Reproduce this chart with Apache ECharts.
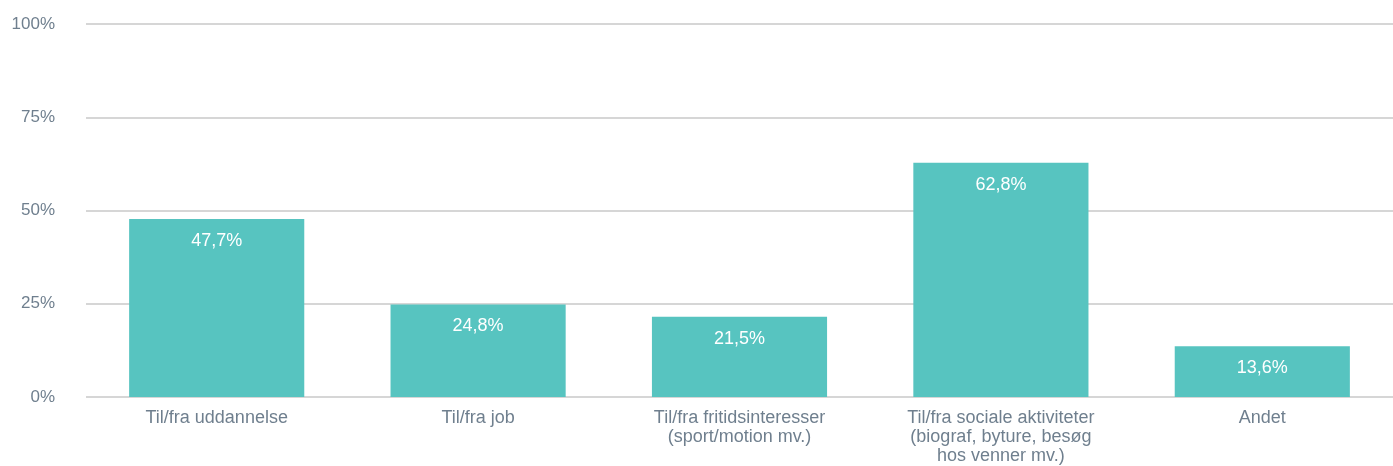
<!DOCTYPE html>
<html lang="da">
<head>
    <meta charset="UTF-8">
    <title>Transportformål</title>
    <script src="https://cdn.jsdelivr.net/npm/echarts@6/dist/echarts.min.js"></script>
    <style>
        html, body { margin: 0; padding: 0; background: #fff; }
        #chart { width: 1393px; height: 466px; }
    </style>
</head>
<body>
    <div id="chart"></div>
    <script type="text/javascript">
    // categories and values
    var categories = [
        'Til/fra uddannelse',
        'Til/fra job',
        'Til/fra fritidsinteresser\n(sport/motion mv.)',
        'Til/fra sociale aktiviteter\n(biograf, byture, besøg\nhos venner mv.)',
        'Andet'
    ];
    var values = [47.7, 24.8, 21.5, 62.8, 13.6];
    var yTicks = [0, 25, 50, 75, 100];

    var chart = echarts.init(document.getElementById('chart'));
    var textFont = 'Liberation Sans, Arial, sans-serif';

    var option = {
        animation: false,
        grid: { left: 86, right: 0, top: 24, bottom: 69 },
        xAxis: {
            type: 'category',
            data: categories,
            axisLine: { show: false },
            axisTick: { show: false },
            axisLabel: {
                color: '#6f7f8e',
                fontSize: 18,
                fontFamily: textFont,
                lineHeight: 19,
                margin: 12
            }
        },
        yAxis: {
            type: 'value',
            min: 0,
            max: 100,
            interval: 25,
            axisLine: { show: false },
            axisTick: { show: false },
            axisLabel: {
                color: '#6f7f8e',
                fontSize: 17,
                fontFamily: textFont,
                margin: 31,
                formatter: function (v) {
                    return yTicks.indexOf(v) >= 0 ? v + '%' : '';
                }
            },
            splitLine: { lineStyle: { color: '#d6d6d6', width: 2 } }
        },
        series: [
            {
                type: 'bar',
                data: values,
                barWidth: '67%',
                itemStyle: { color: '#57c4c0' },
                label: {
                    show: true,
                    position: 'insideTop',
                    distance: 13,
                    color: '#ffffff',
                    fontSize: 18,
                    fontFamily: textFont,
                    formatter: function (p) {
                        return p.value.toFixed(1).replace('.', ',') + '%';
                    }
                }
            }
        ]
    };
    chart.setOption(option);
    </script>
</body>
</html>
